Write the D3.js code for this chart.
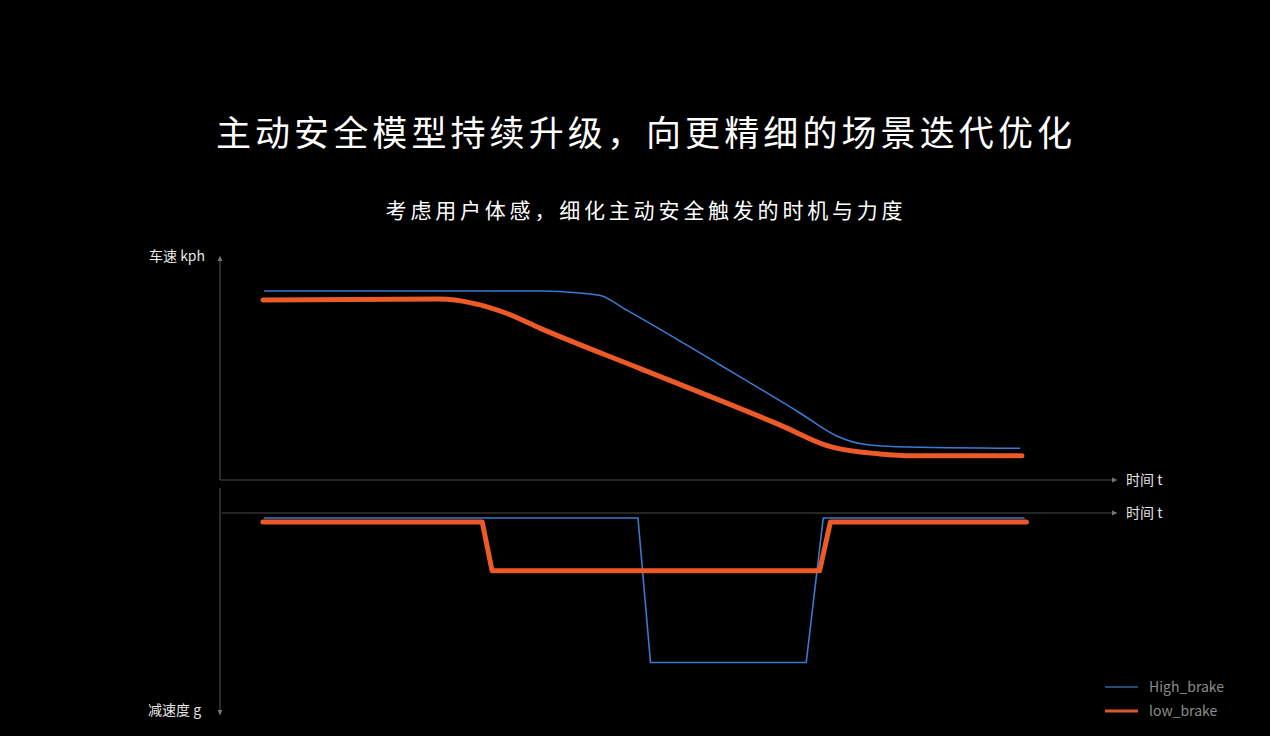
<!DOCTYPE html>
<html lang="zh">
<head>
<meta charset="UTF-8">
<title>主动安全模型</title>
<style>
  html, body { margin: 0; padding: 0; background: #000; }
  svg { display: block; font-family: "Noto Sans CJK SC", "Noto Sans", sans-serif; }
</style>
</head>
<body>
<div id="chart"></div>
<script src="https://d3js.org/d3.v7.min.js"></script>
<script>
// speed curves (time t, speed kph)
const highSpeedT = [4.9, 35.8, 40.2, 42.5, 45.4, 55.9, 64.8, 68.9, 71.8, 75.6, 89.4];
const highSpeedV = [84.0, 84.0, 83.1, 82.0, 75.6, 51.1, 29.8, 19.6, 16.0, 14.8, 14.1];
const lowSpeedT = [4.8, 24.6, 28.3, 32.0, 35.8, 46.9, 62.6, 68.2, 73.7, 77.4, 89.6];
const lowSpeedV = [80.0, 80.4, 78.5, 74.1, 67.4, 49.6, 24.4, 14.8, 11.6, 10.8, 10.8];

// deceleration curves (time t, decel g)
const highDecelT = [4.9, 46.7, 48.1, 65.5, 67.4, 89.9];
const highDecelG = [0.025, 0.025, 0.74, 0.74, 0.025, 0.025];
const lowDecelT = [4.8, 29.3, 30.4, 67.0, 68.2, 90.1];
const lowDecelG = [0.045, 0.045, 0.286, 0.286, 0.045, 0.045];

const seriesNames = ["High_brake", "low_brake"];
const seriesColors = ["#3a7ad0", "#ec5a28"];

const W = 1270, H = 736;
const svg = d3.select("#chart").append("svg")
  .attr("width", W).attr("height", H)
  .style("background", "#000");

const axisColor = "#4a4a4a";

// arrow heads
const defs = svg.append("defs");
defs.append("marker")
  .attr("id", "arrow")
  .attr("viewBox", "0 0 10 10")
  .attr("refX", 5).attr("refY", 5)
  .attr("markerWidth", 5).attr("markerHeight", 5)
  .attr("orient", "auto")
  .append("path")
  .attr("d", "M0,1 L9,5 L0,9 Z")
  .attr("fill", "#777");

// titles
svg.append("text")
  .attr("x", 646).attr("y", 146)
  .attr("text-anchor", "middle")
  .attr("fill", "#fff")
  .style("font-size", "35px")
  .style("letter-spacing", "4.1px")
  .text("主动安全模型持续升级，向更精细的场景迭代优化");

svg.append("text")
  .attr("x", 646).attr("y", 218)
  .attr("text-anchor", "middle")
  .attr("fill", "#fff")
  .style("font-size", "21px")
  .style("letter-spacing", "3.8px")
  .text("考虑用户体感，细化主动安全触发的时机与力度");

// scales
const x = d3.scaleLinear().domain([0, 100]).range([220, 1115]);
const ySpeed = d3.scaleLinear().domain([0, 100]).range([480, 255]);
const yDecel = d3.scaleLinear().domain([0, 1]).range([513, 715]);

// upper axes
svg.append("line")
  .attr("x1", x(0)).attr("x2", x(0))
  .attr("y1", ySpeed(0)).attr("y2", ySpeed(100) + 3)
  .attr("stroke", axisColor).attr("stroke-width", 1.2)
  .attr("marker-end", "url(#arrow)");
svg.append("line")
  .attr("x1", x(0)).attr("x2", x(100))
  .attr("y1", ySpeed(0)).attr("y2", ySpeed(0))
  .attr("stroke", axisColor).attr("stroke-width", 1.2)
  .attr("marker-end", "url(#arrow)");

// lower axes
svg.append("line")
  .attr("x1", x(0)).attr("x2", x(0))
  .attr("y1", 488).attr("y2", yDecel(1) - 2)
  .attr("stroke", axisColor).attr("stroke-width", 1.2)
  .attr("marker-end", "url(#arrow)");
svg.append("line")
  .attr("x1", x(0) + 2).attr("x2", x(100))
  .attr("y1", yDecel(0)).attr("y2", yDecel(0))
  .attr("stroke", axisColor).attr("stroke-width", 1.2)
  .attr("marker-end", "url(#arrow)");

// axis labels
const labelStyle = sel => sel.attr("fill", "#e6e6e6").style("font-size", "14px");
svg.append("text").attr("x", 149).attr("y", 261).text("车速 kph").call(labelStyle);
svg.append("text").attr("x", 1126).attr("y", 485).text("时间 t").call(labelStyle);
svg.append("text").attr("x", 1126).attr("y", 518).text("时间 t").call(labelStyle);
svg.append("text").attr("x", 148).attr("y", 715).text("减速度 g").call(labelStyle);

// speed lines
const speedLine = d3.line()
  .x(d => x(d[0])).y(d => ySpeed(d[1]))
  .curve(d3.curveMonotoneX);

svg.append("path")
  .datum(highSpeedT.map((t, i) => [t, highSpeedV[i]]))
  .attr("fill", "none")
  .attr("stroke", seriesColors[0])
  .attr("stroke-width", 1.6)
  .attr("d", speedLine);

svg.append("path")
  .datum(lowSpeedT.map((t, i) => [t, lowSpeedV[i]]))
  .attr("fill", "none")
  .attr("stroke", seriesColors[1])
  .attr("stroke-width", 5)
  .attr("stroke-linecap", "round")
  .attr("d", speedLine);

// decel lines
const decelLine = d3.line()
  .x(d => x(d[0])).y(d => yDecel(d[1]));

svg.append("path")
  .datum(highDecelT.map((t, i) => [t, highDecelG[i]]))
  .attr("fill", "none")
  .attr("stroke", seriesColors[0])
  .attr("stroke-width", 1.6)
  .attr("d", decelLine);

svg.append("path")
  .datum(lowDecelT.map((t, i) => [t, lowDecelG[i]]))
  .attr("fill", "none")
  .attr("stroke", seriesColors[1])
  .attr("stroke-width", 5)
  .attr("stroke-linejoin", "round")
  .attr("stroke-linecap", "round")
  .attr("d", decelLine);

// legend
const legend = svg.append("g").attr("transform", "translate(1105,687)");
seriesNames.forEach((name, i) => {
  const g = legend.append("g").attr("transform", `translate(0,${i * 24})`);
  g.append("line")
    .attr("x1", 0).attr("x2", 33)
    .attr("stroke", i === 0 ? "#35639a" : "#d9582c")
    .attr("stroke-width", i === 0 ? 1.6 : 3);
  g.append("text")
    .attr("x", 44).attr("y", 5)
    .attr("fill", "#8c8c8c")
    .style("font-size", "14px")
    .text(name);
});
</script>
</body>
</html>
